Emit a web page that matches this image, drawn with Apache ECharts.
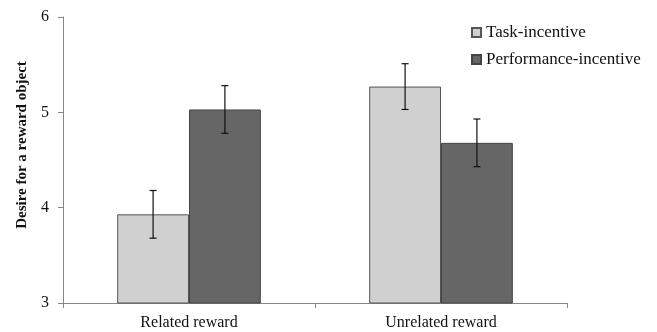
<!DOCTYPE html>
<html><head><meta charset="utf-8">
<script src="https://cdn.jsdelivr.net/npm/echarts@6/dist/echarts.min.js"></script>
<style>html,body{margin:0;padding:0;background:#fff}#c{width:657px;height:332px}</style>
</head><body><div id="c"></div>
<script>
var categories = ['Related reward', 'Unrelated reward'];
var seriesNames = ['Task-incentive', 'Performance-incentive'];
var taskValues = [3.93, 5.27];
var taskErrors = [0.25, 0.24];
var perfValues = [5.03, 4.68];
var perfErrors = [0.25, 0.25];
var yTicks = [3, 4, 5, 6];

var FONT = '"Liberation Serif", "Times New Roman", serif';
var GAP = 0.43;

function errSeries(values, errors, idx) {
  return {
    type: 'custom',
    silent: true,
    z: 10,
    data: values.map(function (v, i) { return [i, v - errors[i], v + errors[i]]; }),
    renderItem: function (params, api) {
      var band = api.size([1, 0])[0];
      var bw = band * (1 - GAP) / 2;
      var off = (idx === 0 ? -bw / 2 : bw / 2);
      var lo = api.coord([api.value(0), api.value(1)]);
      var hi = api.coord([api.value(0), api.value(2)]);
      var x = lo[0] + off;
      var cap = 3.5;
      var st = { stroke: '#111', lineWidth: 1.2 };
      return { type: 'group', children: [
        { type: 'line', shape: { x1: x, y1: hi[1], x2: x, y2: lo[1] }, style: st },
        { type: 'line', shape: { x1: x - cap, y1: hi[1], x2: x + cap, y2: hi[1] }, style: st },
        { type: 'line', shape: { x1: x - cap, y1: lo[1], x2: x + cap, y2: lo[1] }, style: st }
      ]};
    }
  };
}

var chart = echarts.init(document.getElementById('c'));
chart.setOption({
  animation: false,
  backgroundColor: '#fff',
  grid: { left: 63, right: 90, top: 17, bottom: 29 },
  legend: {
    orient: 'vertical', left: 466, top: 19, itemGap: 10,
    itemWidth: 9, itemHeight: 9, icon: 'rect',
    textStyle: { fontFamily: FONT, fontSize: 17, color: '#111' },
    data: seriesNames
  },
  xAxis: {
    type: 'category', data: categories,
    axisLine: { lineStyle: { color: '#888', width: 1 } },
    axisTick: { show: true, alignWithLabel: false, length: 5, lineStyle: { color: '#888' } },
    axisLabel: { fontFamily: FONT, fontSize: 16, color: '#111', margin: 12 }
  },
  yAxis: {
    type: 'value', min: yTicks[0], max: yTicks[yTicks.length - 1], interval: 1,
    name: 'Desire for a reward object', nameLocation: 'middle', nameGap: 33,
    nameTextStyle: { fontFamily: FONT, fontSize: 15, fontWeight: 'bold', color: '#111', padding: [0, 0, 0, 30] },
    axisLine: { show: true, lineStyle: { color: '#888', width: 1 } },
    axisTick: { show: true, length: 5, lineStyle: { color: '#888' } },
    axisLabel: { fontFamily: FONT, fontSize: 16, color: '#111', margin: 14 },
    splitLine: { show: false }
  },
  series: [
    { name: seriesNames[0], type: 'bar', data: taskValues, barGap: '0%', barCategoryGap: '43%',
      itemStyle: { color: '#d0d0d0', borderColor: '#555', borderWidth: 1 } },
    { name: seriesNames[1], type: 'bar', data: perfValues, barGap: '0%', barCategoryGap: '43%',
      itemStyle: { color: '#666666', borderColor: '#444', borderWidth: 1 } },
    errSeries(taskValues, taskErrors, 0),
    errSeries(perfValues, perfErrors, 1)
  ]
});
</script></body></html>
